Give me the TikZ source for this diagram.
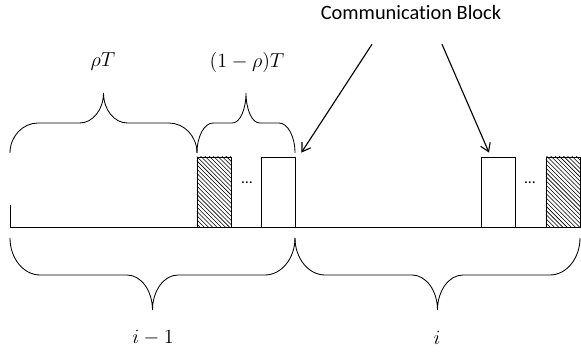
\documentclass[tikz,border=0pt]{standalone}
\usepackage{fontspec}
\newfontfamily\calibri[Ligatures=NoCommon]{Carlito}
\usetikzlibrary{patterns,arrows.meta}
% curly brace: left x, right x, end y, middle y, tip y, end radius
\newcommand{\curly}[6]{\draw(#1,#3)..controls(#1,{#3+.55*(#4-#3)})and({#1+.45*#6},#4)..({#1+#6},#4)
--({(#1+#2)/2-.85*#6},#4)..controls({(#1+#2)/2-.38*#6},#4)and({(#1+#2)/2},{#4+.45*(#5-#4)})..({(#1+#2)/2},#5)
..controls({(#1+#2)/2},{#4+.45*(#5-#4)})and({(#1+#2)/2+.38*#6},#4)..({(#1+#2)/2+.85*#6},#4)
--({#2-#6},#4)..controls({#2-.45*#6},#4)and(#2,{#3+.55*(#4-#3)})..(#2,#3);}
\tikzset{blk/.style={draw,minimum width=.85cm,minimum height=1.75cm,inner sep=0pt},
lbl/.style={font=\fontsize{15}{18}\selectfont}}
\begin{document}
\begin{tikzpicture}[x=.025cm,y=-.025cm,line width=.6pt,>={Straight Barb[length=2mm,width=2.6mm]}]
\useasboundingbox(0,0)rectangle(581,352);
\draw(10,205)--(10,227)--(580,227);
\node[blk,pattern=north west lines](h1)at(214,192){};
\node[blk](c1)at(278,192){};
\node[blk](c2)at(498,192){};
\node[blk,pattern=north west lines](h2)at(563,192){};
\node[font=\calibri\fontsize{11}{12}\selectfont](d1)at(247,183){…};
\node[font=\calibri\fontsize{11}{12}\selectfont](d2)at(530,183){…};
\curly{10}{197}{153}{123}{93}{28}
\curly{197}{295}{153}{123}{93}{16}
\curly{10}{295}{238}{275}{310}{30}
\curly{295}{580}{238}{275}{310}{30}
\node[lbl](rt)at(103,62){$\rho T$};
\node[lbl](rt2)at(247,62){$(1-\rho)T$};
\node[lbl](im)at(153,338){$i-1$};
\node[lbl](ii)at(437,338){$i$};
\node[font=\calibri\fontsize{14.5}{17}\selectfont](cb)at(411,13){Communication Block};
\draw[->,line width=.8pt]([shift={(-39,19)}]cb.south)--([shift={(6,-4)}]c1.north east);
\draw[->,line width=.8pt]([shift={(31,19)}]cb.south)--([shift={(-9,-4)}]c2.north);
\end{tikzpicture}
\end{document}
